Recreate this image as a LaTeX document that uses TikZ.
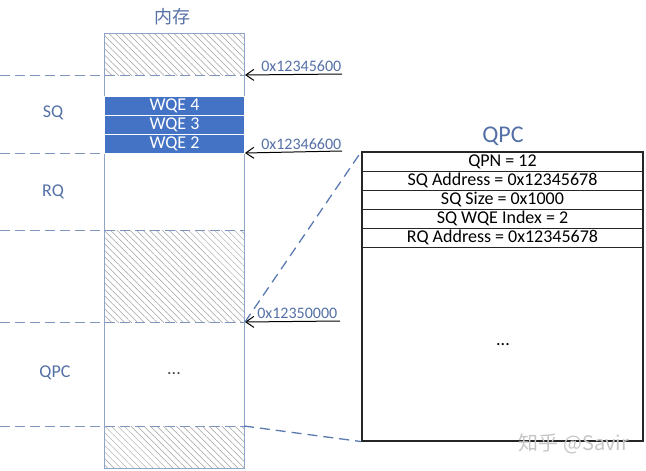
\documentclass[tikz,border=0pt]{standalone}
\usepackage{fontspec}
\setmainfont{Carlito}
\newfontfamily\cjk{Noto Sans CJK SC}
\usetikzlibrary{patterns.meta,arrows.meta}
\definecolor{wqeblue}{HTML}{4472C4}
\definecolor{lblblue}{HTML}{5470A6}
\definecolor{dashblue}{HTML}{5A7AB0}
\definecolor{sepblue}{HTML}{7F95BE}
\definecolor{memline}{HTML}{8EA4C8}
\tikzset{
  txt/.style={font=\fontsize{18}{20}\selectfont},
  hatch/.style={pattern={Lines[angle=-45,distance=4.6pt,line width=0.5pt]},pattern color=gray!75},
  memcol/.style={draw=memline,line width=1pt,minimum width=140pt,minimum height=435pt,inner sep=0pt},
  wqe/.style={txt,fill=wqeblue,draw=white,line width=1pt,text=white,minimum width=140pt,minimum height=18.7pt,inner sep=0pt},
  qrow/.style={txt,draw=black!85,line width=1pt,minimum width=281pt,minimum height=19pt,inner sep=0pt},
  sep/.style={sepblue,line width=1pt,dash pattern=on 10pt off 5pt},
  link/.style={dashblue,line width=1.3pt,dash pattern=on 10pt off 6pt},
  addr/.style={black,line width=1pt,-{Straight Barb[length=8pt,width=11pt,line width=1pt]}},
  addrlbl/.style={lblblue,font=\fontsize{16}{18}\selectfont,inner sep=2pt,above},
  side/.style={txt,text=lblblue}
}
\begin{document}
\begin{tikzpicture}[x=1pt,y=-1pt]
\useasboundingbox (0,0) rectangle (646,471);
\pgfmathsetmacro{\rowh}{19}
\fill[hatch] (104,33) rectangle (244,75);
\fill[hatch] (104,230) rectangle (244,322);
\fill[hatch] (104,426) rectangle (244,468);
\foreach \y in {75,230,322,426}{\draw[sep] (0,\y) -- (244,\y);}
\draw[sep] (0,153) -- (104,153);
\node[memcol] (mem) at (174,250.5) {};
\node[side] (memtitle) at (172,17) {\cjk 内存};
\node[wqe] (wqe4) at (174.5,106.3) {WQE 4};
\node[wqe] (wqe3) at (174.5,125) {WQE 3};
\node[wqe] (wqe2) at (174.5,143.7) {WQE 2};
\node[side] (sqlbl) at (53,113) {SQ};
\node[side] (rqlbl) at (53,192) {RQ};
\node[side] (qpclbl) at (55,373) {QPC};
\node[txt,text=black!70] (memdots) at (174,374) {...};
\coordinate (p1) at (245,75);
\coordinate (p2) at (245,153);
\coordinate (p3) at (245,322);
\coordinate (p4) at (244,426);
\coordinate (s1) at (342,74);
\coordinate (s2) at (342,151);
\coordinate (s3) at (340,321);
\draw[addr] (s1) -- (p1) node[addrlbl,pos=0.42] {0x12345600};
\draw[addr] (s2) -- (p2) node[addrlbl,pos=0.42] {0x12346600};
\draw[addr] (s3) -- (p3) node[addrlbl,pos=0.45] {0x12350000};
\node[draw=black!85,line width=1.2pt,minimum width=281pt,minimum height=289pt,inner sep=0pt] (qpc) at (502.5,296.5) {};
\node[lblblue,font=\fontsize{24}{26}\selectfont] (qpctitle) at (503,136) {QPC};
\foreach \i/\t in {1/{QPN = 12},2/{SQ Address = 0x12345678},3/{SQ Size = 0x1000},4/{SQ WQE Index = 2},5/{RQ Address = 0x12345678}}{
  \node[qrow] (row\i) at (502.5,{152+\rowh*\i-\rowh/2}) {\t};
}
\node[txt] (qpcdots) at (503,345) {...};
\draw[link] (p3) -- (qpc.north west);
\draw[link] (p4) -- (qpc.south west);
\node[gray!45,font=\fontsize{20}{22}\selectfont] (mark) at (574,444) {\cjk 知乎 @Savir};
\end{tikzpicture}
\end{document}
